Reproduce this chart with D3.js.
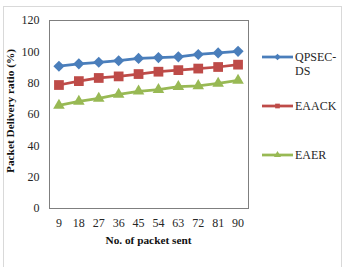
<!DOCTYPE html>
<html>
<head>
<meta charset="utf-8">
<script src="https://cdn.jsdelivr.net/npm/d3@7"></script>
<style>
  body { margin: 0; background: #fff; }
  svg text { font-family: "Liberation Serif", "Times New Roman", serif !important; }
  .tick text { font-size: 12px; fill: #262626; }
  .label { font-size: 11.3px; font-weight: bold; fill: #111; }
  .legend text { font-size: 12px; fill: #262626; }
</style>
</head>
<body>
<svg width="348" height="267"></svg>
<script>
// packets sent (x categories)
const packets = ["9", "18", "27", "36", "45", "54", "63", "72", "81", "90"];
const yTicks = [0, 20, 40, 60, 80, 100, 120];

const qpsec = [90.5, 92, 93, 94, 95.5, 96, 96.5, 98, 99, 100];
const eaack = [78.5, 81, 83, 84, 85.5, 87, 88, 89, 90, 91.5];
const eaer = [65.5, 68, 70, 72.5, 74.5, 75.5, 77.5, 78, 79.5, 81.5];

const seriesNames = [["QPSEC-", "DS"], ["EAACK"], ["EAER"]];
const colors = ["#4a7ebb", "#be4b48", "#98b954"];
const allSeries = [qpsec, eaack, eaer];

const svg = d3.select("svg");

// outer frame
svg.append("rect")
  .attr("x", 3.5).attr("y", 6.5)
  .attr("width", 338).attr("height", 270)
  .attr("fill", "none")
  .attr("stroke", "#d9d9d9");

const pLeft = 49, pRight = 248, pTop = 20, pBottom = 208;

const x = d3.scaleBand().domain(packets).range([pLeft, pRight]);
const y = d3.scaleLinear().domain([0, 120]).range([pBottom, pTop]);

// plot box
svg.append("rect")
  .attr("x", pLeft + 0.5).attr("y", pTop + 0.5)
  .attr("width", pRight - pLeft).attr("height", pBottom - pTop)
  .attr("fill", "none")
  .attr("stroke", "#7f7f7f");

const yAxis = svg.append("g")
  .attr("transform", `translate(${pLeft + 0.5},0)`)
  .call(d3.axisLeft(y).tickValues(yTicks).tickSize(0).tickPadding(10));
yAxis.select(".domain").remove();

const xAxis = svg.append("g")
  .attr("transform", `translate(0,${pBottom + 0.5})`)
  .call(d3.axisBottom(x).tickSize(0).tickPadding(10));
xAxis.select(".domain").remove();

yAxis.attr("font-family", null).attr("font-size", null);
xAxis.attr("font-family", null).attr("font-size", null);

const line = d3.line()
  .x((d, i) => x(packets[i]) + x.bandwidth() / 2)
  .y(d => y(d));

// diamond = rotated square
const symbols = [d3.symbolSquare, d3.symbolSquare, d3.symbolTriangle];
const symSizes = [62, 95, 58];
const rot = [45, 0, 0];

allSeries.forEach((s, k) => {
  svg.append("path")
    .datum(s)
    .attr("d", line)
    .attr("fill", "none")
    .attr("stroke", colors[k])
    .attr("stroke-width", 2.75);

  svg.selectAll(null)
    .data(s)
    .enter()
    .append("path")
    .attr("transform", (d, i) => `translate(${x(packets[i]) + x.bandwidth() / 2},${y(d)}) rotate(${rot[k]})`)
    .attr("d", d3.symbol().type(symbols[k]).size(symSizes[k]))
    .attr("fill", colors[k]);
});

// legend
const legendY = [57, 106, 155];
const legend = svg.append("g").attr("class", "legend");
seriesNames.forEach((name, k) => {
  const g = legend.append("g").attr("transform", `translate(262,${legendY[k]})`);
  g.append("line")
    .attr("x1", 0).attr("x2", 31)
    .attr("stroke", colors[k]).attr("stroke-width", 2.75);
  g.append("path")
    .attr("transform", `translate(15.5,0) rotate(${rot[k]})`)
    .attr("d", d3.symbol().type(symbols[k]).size(22))
    .attr("fill", colors[k]);
  const t = g.append("text").attr("x", 33).attr("y", 4);
  name.forEach((n, j) => {
    t.append("tspan").attr("x", 33).attr("dy", j === 0 ? 0 : 14).text(n);
  });
});

svg.append("text")
  .attr("class", "label")
  .attr("transform", `translate(14,111) rotate(-90)`)
  .attr("text-anchor", "middle")
  .text("Packet Delivery ratio (%)");

svg.append("text")
  .attr("class", "label")
  .attr("x", (pLeft + pRight) / 2)
  .attr("y", 244)
  .attr("text-anchor", "middle")
  .text("No. of packet sent");
</script>
</body>
</html>
